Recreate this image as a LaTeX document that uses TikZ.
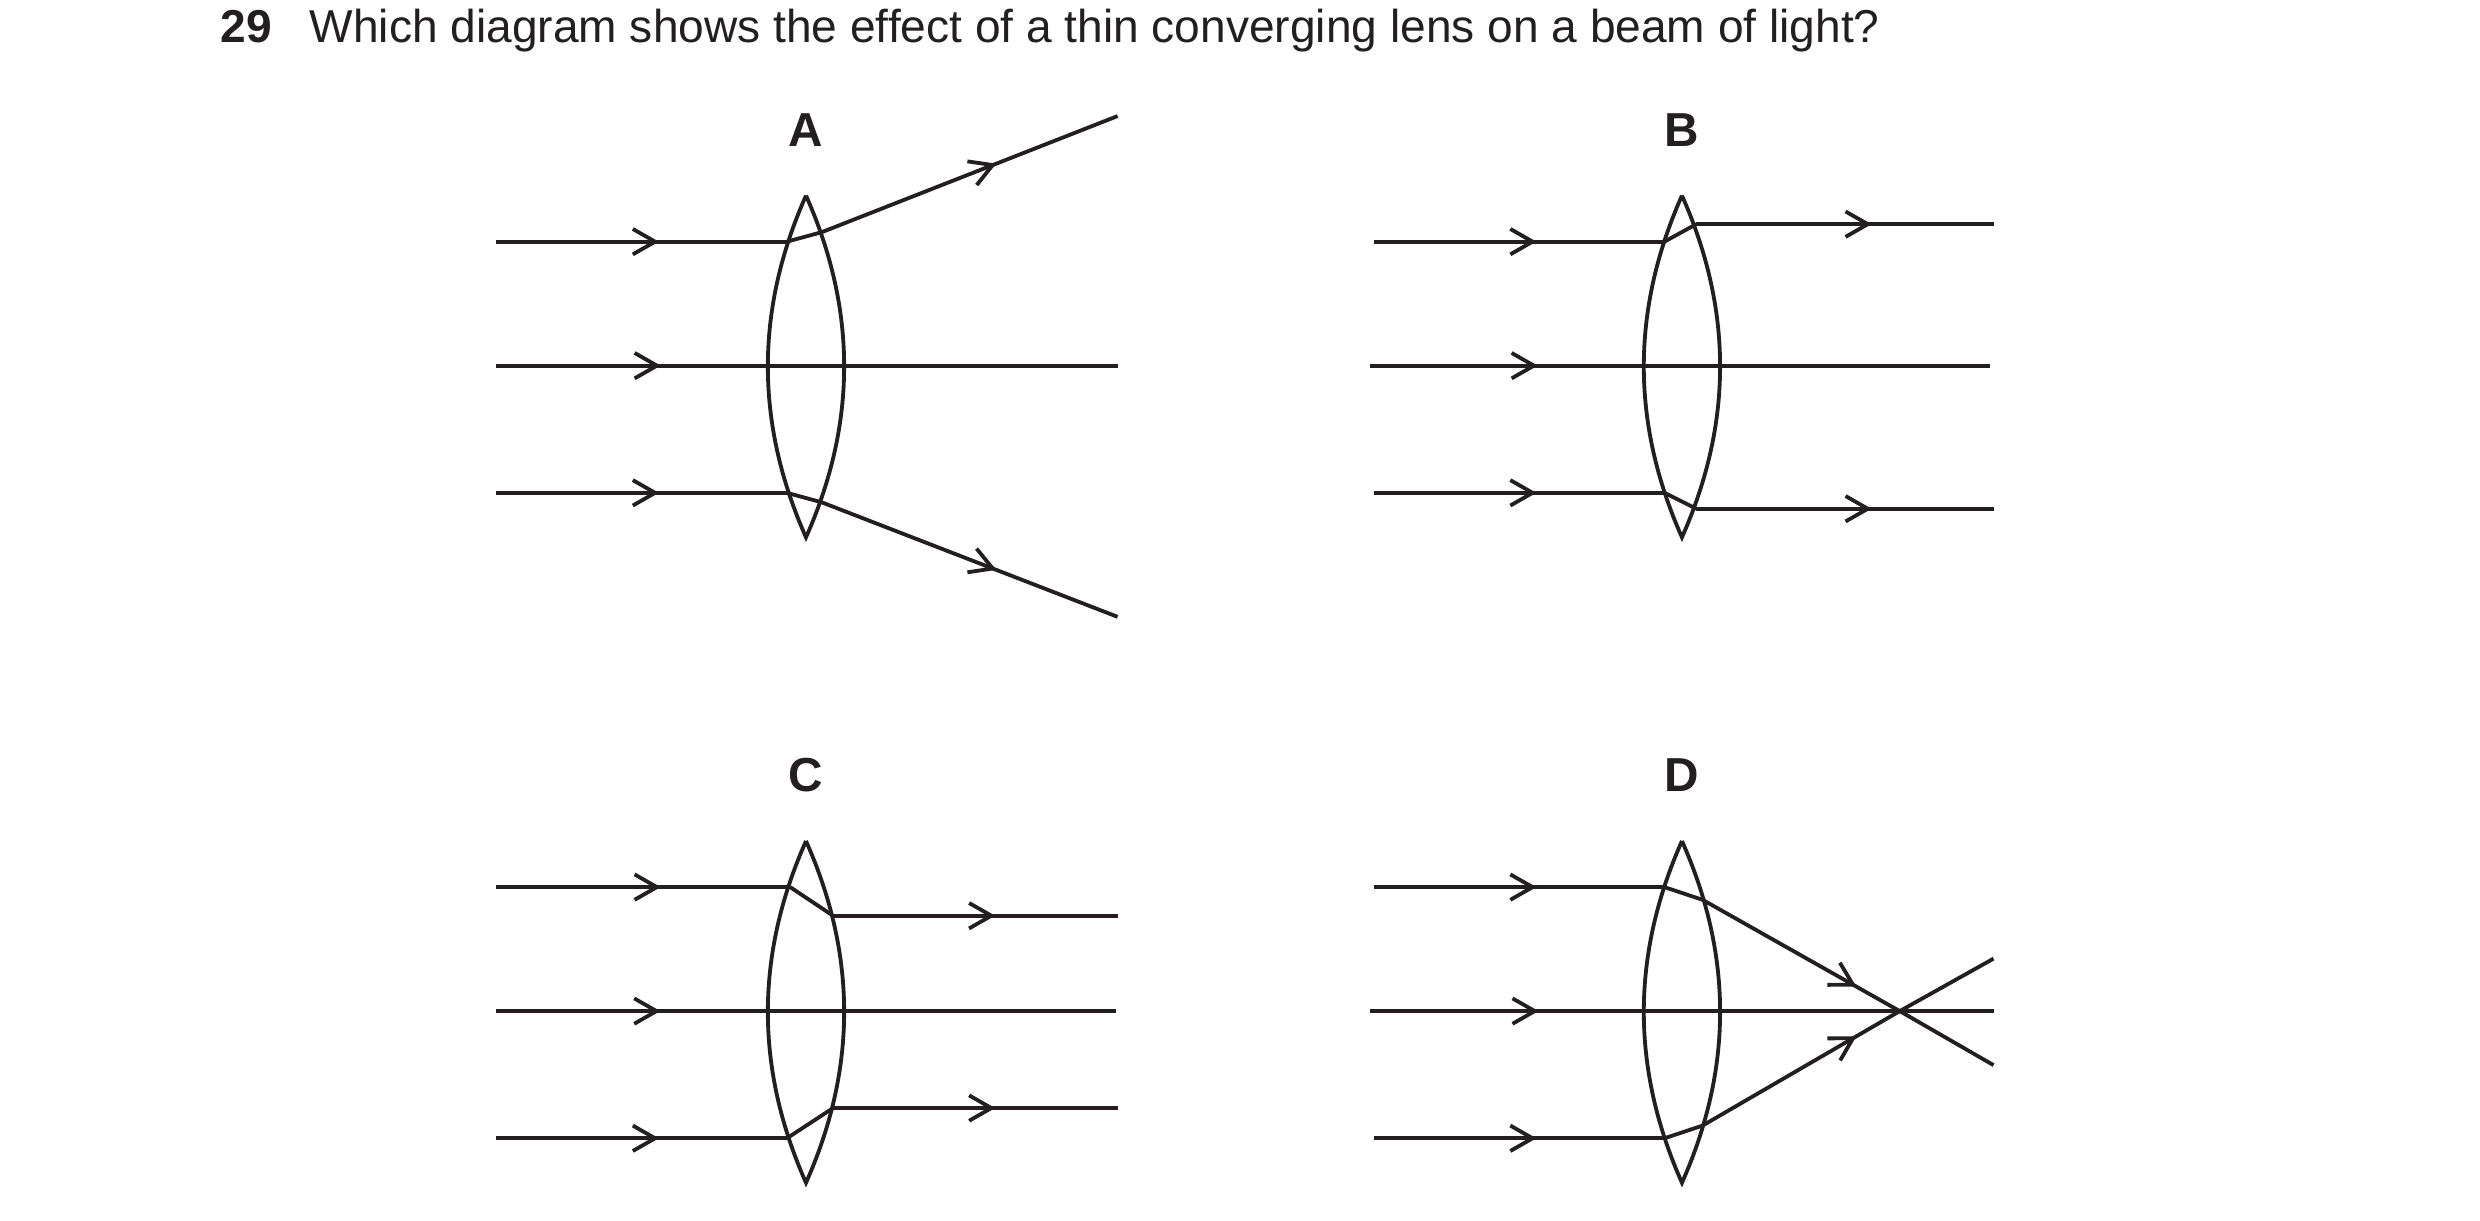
\documentclass[tikz,border=0pt]{standalone}
\usepackage{fontspec}
\setmainfont{Liberation Sans}
\usetikzlibrary{decorations.markings,arrows.meta}
\definecolor{ink}{HTML}{231F20}
\begin{document}
\begin{tikzpicture}[x=0.5pt,y=-0.5pt,line width=1.2pt,color=ink,
  ray/.style={draw,line join=miter},
  am/.style={postaction={decorate,decoration={markings,mark=at position #1 with {\arrow{Straight Barb[length=7pt,width=8pt,line width=1.2pt]}}}}},
  lbl/.style={font=\fontsize{15}{18}\selectfont\bfseries,anchor=base},
  lens/.style={draw}]
\useasboundingbox (0,0) rectangle (1560,768);
\node[anchor=base west,font=\fontsize{14.5}{17}\selectfont\bfseries] (q) at (131,27) {29};
\node[anchor=base west,font=\fontsize{14.5}{17}\selectfont] (qt) at (187,27) {Which diagram shows the effect of a thin converging lens on a beam of light?};
% lens pic
\newcommand{\mylens}[3]{% cx, top y, name
  \coordinate (#3t) at (#1,#2);
  \coordinate (#3b) at (#1,#2+215);
  \draw (#3t) .. controls (#1-32,#2+72) and (#1-32,#2+143) .. (#3b)
        .. controls (#1+32,#2+143) and (#1+32,#2+72) .. (#3t);}
% A
\node[lbl] (la) at (507,92) {A};
\mylens{507}{123}{A}
\coordinate (a1) at (312,152); \coordinate (a2) at (495,152); \coordinate (a3) at (517,146); \coordinate (a4) at (703,73);
\draw[am=0.56] (a1)--(a2); \draw (a2)--(a3); \draw[am=0.59] (a3)--(a4);
\coordinate (a5) at (312,230); \coordinate (a6) at (703,230);
\draw[am=0.265] (a5)--(a6);
\coordinate (a7) at (312,310); \coordinate (a8) at (495,310); \coordinate (a9) at (517,316); \coordinate (a10) at (703,388);
\draw[am=0.56] (a7)--(a8); \draw (a8)--(a9); \draw[am=0.59] (a9)--(a10);
% B
\node[lbl] (lb) at (1058,92) {B};
\mylens{1058}{123}{B}
\coordinate (b1) at (864,152); \coordinate (b2) at (1047,152); \coordinate (b3) at (1067,141); \coordinate (b4) at (1254,141);
\draw[am=0.56] (b1)--(b2); \draw (b2)--(b3); \draw[am=0.59] (b3)--(b4);
\coordinate (b5) at (862,230); \coordinate (b6) at (1252,230);
\draw[am=0.27] (b5)--(b6);
\coordinate (b7) at (864,310); \coordinate (b8) at (1047,310); \coordinate (b9) at (1067,320); \coordinate (b10) at (1254,320);
\draw[am=0.56] (b7)--(b8); \draw (b8)--(b9); \draw[am=0.59] (b9)--(b10);
% C
\node[lbl] (lc) at (507,498) {C};
\mylens{507}{529}{C}
\coordinate (c1) at (312,558); \coordinate (c2) at (497,558); \coordinate (c3) at (524,576); \coordinate (c4) at (703,576);
\draw[am=0.56] (c1)--(c2); \draw (c2)--(c3); \draw[am=0.57] (c3)--(c4);
\coordinate (c5) at (312,636); \coordinate (c6) at (702,636);
\draw[am=0.265] (c5)--(c6);
\coordinate (c7) at (312,716); \coordinate (c8) at (495,716); \coordinate (c9) at (524,697); \coordinate (c10) at (703,697);
\draw[am=0.56] (c7)--(c8); \draw (c8)--(c9); \draw[am=0.57] (c9)--(c10);
% D
\node[lbl] (ld) at (1058,498) {D};
\mylens{1058}{529}{D}
\coordinate (d1) at (864,558); \coordinate (d2) at (1047,558); \coordinate (d3) at (1071,566); \coordinate (dx) at (1195,636); \coordinate (d4) at (1254,670);
\draw[am=0.56] (d1)--(d2); \draw (d2)--(d3); \draw[am=0.78] (d3)--(dx); \draw (dx)--(d4);
\coordinate (d5) at (862,636); \coordinate (d6) at (1254,636);
\draw[am=0.27] (d5)--(d6);
\coordinate (d7) at (864,716); \coordinate (d8) at (1047,716); \coordinate (d9) at (1071,708); \coordinate (d10) at (1254,603);
\draw[am=0.56] (d7)--(d8); \draw (d8)--(d9); \draw[am=0.78] (d9)--(dx); \draw (dx)--(d10);
\end{tikzpicture}
\end{document}
